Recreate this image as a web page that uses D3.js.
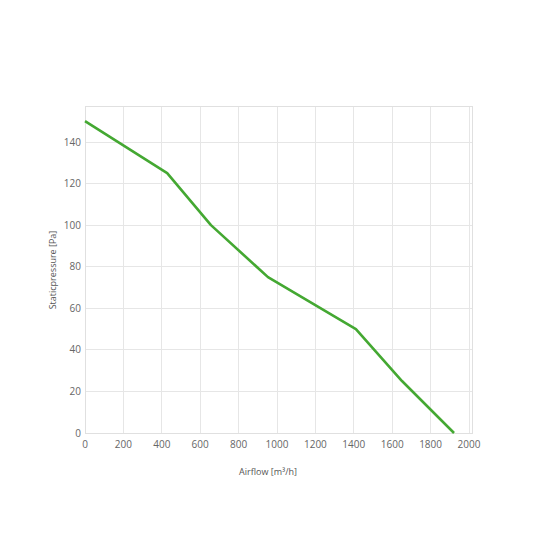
<!DOCTYPE html>
<html><head><meta charset="utf-8">
<script src="https://cdn.jsdelivr.net/npm/d3@7"></script>
<style>body{margin:0;background:#fff}svg{display:block}text{font-family:"Open Sans",sans-serif}</style>
</head><body><svg id="c" width="533" height="533"></svg>
<script>
const airflow = [0, 428, 656, 953, 1411, 1651, 1922];
const pressure = [150, 125, 100, 75, 50, 25, 0];
const xTicks = [0,200,400,600,800,1000,1200,1400,1600,1800,2000];
const yTicks = [0,20,40,60,80,100,120,140];
const xLabel = "Airflow [m³/h]";
const yLabel = "Staticpressure [Pa]";

const svg = d3.select("#c");
const L=85, R=469, T=106, B=433;
const x = d3.scaleLinear().domain([0,2000]).range([L,R]);
const y = d3.scaleLinear().domain([0,140]).range([B,142]);
const g = svg.append("g");
// grid
g.selectAll(".vg").data(xTicks).enter().append("line")
 .attr("x1",d=>x(d)).attr("x2",d=>x(d)).attr("y1",T).attr("y2",B)
 .attr("stroke","#e6e6e6").attr("stroke-width",1).attr("shape-rendering","crispEdges");
g.selectAll(".hg").data(yTicks).enter().append("line")
 .attr("x1",L).attr("x2",472).attr("y1",d=>y(d)).attr("y2",d=>y(d))
 .attr("stroke","#e6e6e6").attr("stroke-width",1).attr("shape-rendering","crispEdges");
// border
g.append("rect").attr("x",L).attr("y",T).attr("width",472-L).attr("height",B-T)
 .attr("fill","none").attr("stroke","#e0e0e0").attr("shape-rendering","crispEdges");
// tick labels
g.selectAll(".xt").data(xTicks).enter().append("text")
 .attr("x",d=>x(d)).attr("y",B+15).attr("text-anchor","middle")
 .attr("font-size",10).attr("fill","#666").text(d=>d);
g.selectAll(".yt").data(yTicks).enter().append("text")
 .attr("x",L-4).attr("y",d=>y(d)+3.5).attr("text-anchor","end")
 .attr("font-size",10).attr("fill","#666").text(d=>d);
// axis titles
svg.append("text").attr("x",268).attr("y",475).attr("text-anchor","middle")
 .attr("font-size",9).attr("fill","#555").text(xLabel);
svg.append("text").attr("transform","translate(56,270) rotate(-90)").attr("text-anchor","middle")
 .attr("font-size",9).attr("fill","#555").text(yLabel);
// line
const pts = airflow.map((a,i)=>[a,pressure[i]]);
svg.append("path").datum(pts)
 .attr("d",d3.line().x(d=>x(d[0])).y(d=>y(d[1])))
 .attr("fill","none").attr("stroke","#44a832").attr("stroke-width",2.6).attr("stroke-linejoin","round");
</script></body></html>
